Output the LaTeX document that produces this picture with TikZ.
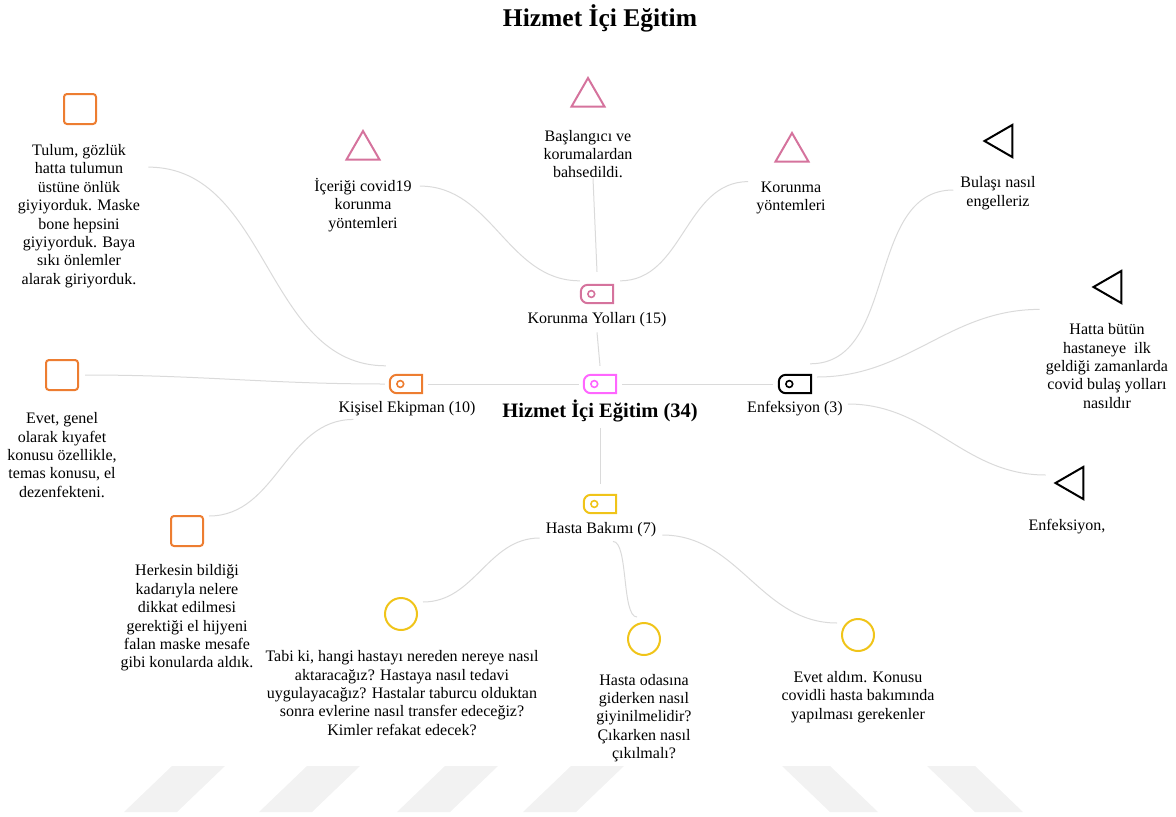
\documentclass[tikz,border=0pt]{standalone}
\usepackage{fontspec}
\setmainfont{Liberation Serif}
\usetikzlibrary{shapes.geometric}
\definecolor{orng}{HTML}{ED7D31}
\definecolor{rose}{HTML}{D5739D}
\definecolor{mgnt}{HTML}{FF66FF}
\definecolor{gold}{HTML}{F0C419}
\definecolor{wire}{HTML}{DADADA}
\definecolor{wmark}{HTML}{F2F2F2}

\begin{document}
\begin{tikzpicture}[x=1pt,y=1pt,
 every node/.style={align=center,inner sep=0pt,font=\fontsize{16}{18.4}\selectfont},
 link/.style={wire,line width=1pt},
 tagbox/.style={minimum width=32pt,minimum height=18pt,append after command={\pgfextra{%
   \draw[#1,line width=2pt] (\tikzlastnode.north east)--([xshift=7pt]\tikzlastnode.north west)
    arc[start angle=90,end angle=180,radius=7pt]--([yshift=7pt]\tikzlastnode.south west)
    arc[start angle=180,end angle=270,radius=7pt]--(\tikzlastnode.south east)--cycle;
   \draw[#1,line width=1.6pt] ([xshift=10.5pt]\tikzlastnode.west) circle[radius=3.4pt];}}},
 sq/.style={draw=orng,line width=2pt,rounded corners=3pt,minimum width=32pt,minimum height=30pt},
 ring/.style={draw=gold,line width=2pt,circle,minimum size=32pt},
 uptri/.style={draw=rose,line width=2pt,regular polygon,regular polygon sides=3,minimum size=38pt},
 lefttri/.style={draw=black,line width=2pt,regular polygon,regular polygon sides=3,shape border rotate=90,minimum size=37pt},
 stripe/.style={fill=wmark,draw=none}]
\useasboundingbox (0,0) rectangle (1176,-817);

% watermark stripes
\foreach \sx in {124,259,397,523}
  \fill[stripe] (\sx,-812)--++(53,0)--++(48,46)--++(-53,0)--cycle;
\foreach \sx in {782,927}
  \fill[stripe] (\sx,-766)--++(48,0)--++(48,-46)--++(-48,0)--cycle;

\node[font=\bfseries\fontsize{25.5}{30}\selectfont] (title) at (600,-18) {Hizmet İçi Eğitim};

% hub
\node[tagbox=mgnt] (hub) at (600,-384) {};
\node[font=\bfseries\fontsize{20.5}{24}\selectfont] (hublbl) at (600,-411) {Hizmet İçi Eğitim (34)};

% Korunma Yollari
\node[tagbox=rose] (kor) at (597,-294) {};
\node (korlbl) at (597,-320) {Korunma Yolları (15)};
\node[uptri] (kor1) at (363,-150) {};
\node (kor1txt) at (363,-205) {İçeriği covid19\\korunma\\yöntemleri};
\node[uptri] (kor2) at (588,-97) {};
\node (kor2txt) at (588,-154) {Başlangıcı ve\\korumalardan\\bahsedildi.};
\node[uptri] (kor3) at (792,-152) {};
\node (kor3txt) at (791,-198) {Korunma\\yöntemleri};

% Kisisel Ekipman
\node[tagbox=orng] (kis) at (406,-384) {};
\node (kislbl) at (407,-409) {Kişisel Ekipman (10)};
\node[sq] (kis1) at (80,-109) {};
\node (kis1txt) at (79,-216) {Tulum, gözlük\\hatta tulumun\\üstüne önlük\\giyiyorduk. Maske\\bone hepsini\\giyiyorduk. Baya\\sıkı önlemler\\alarak giriyorduk.};
\node[sq] (kis2) at (62,-375) {};
\node (kis2txt) at (62,-455) {Evet, genel\\olarak kıyafet\\konusu özellikle,\\temas konusu, el\\dezenfekteni.};
\node[sq] (kis3) at (187,-531) {};
\node (kis3txt) at (187,-618) {Herkesin bildiği\\kadarıyla nelere\\dikkat edilmesi\\gerektiği el hijyeni\\falan maske mesafe\\gibi konularda aldık.};

% Enfeksiyon
\node[tagbox=black] (enf) at (795,-384) {};
\node (enflbl) at (795,-409) {Enfeksiyon (3)};
\node[lefttri] (enf1) at (1003,-141) {};
\node (enf1txt) at (998,-193) {Bulaşı nasıl\\engelleriz};
\node[lefttri] (enf2) at (1112,-287) {};
\node (enf2txt) at (1107,-366) {Hatta bütün\\hastaneye\ \ ilk\\geldiği zamanlarda\\covid bulaş yolları\\nasıldır};
\node[lefttri] (enf3) at (1074,-483) {};
\node (enf3txt) at (1067,-527) {Enfeksiyon,};

% Hasta Bakimi
\node[tagbox=gold] (has) at (600,-504) {};
\node (haslbl) at (601,-530) {Hasta Bakımı (7)};
\node[ring] (has1) at (401,-614) {};
\node (has1txt) at (402,-693) {Tabi ki, hangi hastayı nereden nereye nasıl\\aktaracağız? Hastaya nasıl tedavi\\uygulayacağız? Hastalar taburcu olduktan\\sonra evlerine nasıl transfer edeceğiz?\\Kimler refakat edecek?};
\node[ring] (has2) at (644,-639) {};
\node (has2txt) at (644,-718) {Hasta odasına\\giderken nasıl\\giyinilmelidir?\\Çıkarken nasıl\\çıkılmalı?};
\node[ring] (has3) at (858,-635) {};
\node (has3txt) at (858,-697) {Evet aldım. Konusu\\covidli hasta bakımında\\yapılması gerekenler};

% links
\draw[link] ([yshift=-5]korlbl.south)--([yshift=9]hub.north);
\draw[link] ([xshift=-5]hub.west)--([xshift=6]kis.east);
\draw[link] ([xshift=6]hub.east)--([xshift=-6]enf.west);
\draw[link] ([yshift=-6]hublbl.south)--([yshift=11]has.north);
\draw[link] ([shift={(8,-8)}]kor1txt.north east) to[out=0,in=180] ([shift={(-1,4)}]kor.north west);
\draw[link] ([xshift=5]kor2txt.south)--([yshift=13]kor.north);
\draw[link] ([shift={(-8,0)}]kor3txt.north west) to[out=180,in=0] ([shift={(7,4)}]kor.north east);
\draw[link] ([shift={(8,-23)}]kis1txt.north east) to[out=0,in=180] ([shift={(-4,9)}]kis.north west);
\draw[link] ([xshift=6]kis2.east) to[out=0,in=180] ([xshift=-5]kis.west);
\draw[link] ([shift={(5,-1)}]kis3.north east) to[out=0,in=180] ([shift={(15,-3)}]kislbl.south west);
\draw[link] ([shift={(-1,11)}]enf.north east) to[out=0,in=180] ([shift={(-7,3)}]enf1txt.west);
\draw[link] ([shift={(6,7)}]enf.east) to[out=0,in=180] ([shift={(-6,14)}]enf2txt.north west);
\draw[link] ([shift={(5,5)}]enflbl.east) to[out=0,in=180] ([shift={(-8,8)}]enf3.west);
\draw[link] ([shift={(-6,-8)}]haslbl.west) to[out=180,in=0] ([shift={(5,12)}]has1.east);
\draw[link] ([shift={(12,-4)}]haslbl.south) to[out=0,in=180,looseness=.5] ([shift={(-7,5)}]has2.north);
\draw[link] ([shift={(6,-5)}]haslbl.east) to[out=0,in=180] ([shift={(-4,12)}]has3.west);
\end{tikzpicture}
\end{document}
